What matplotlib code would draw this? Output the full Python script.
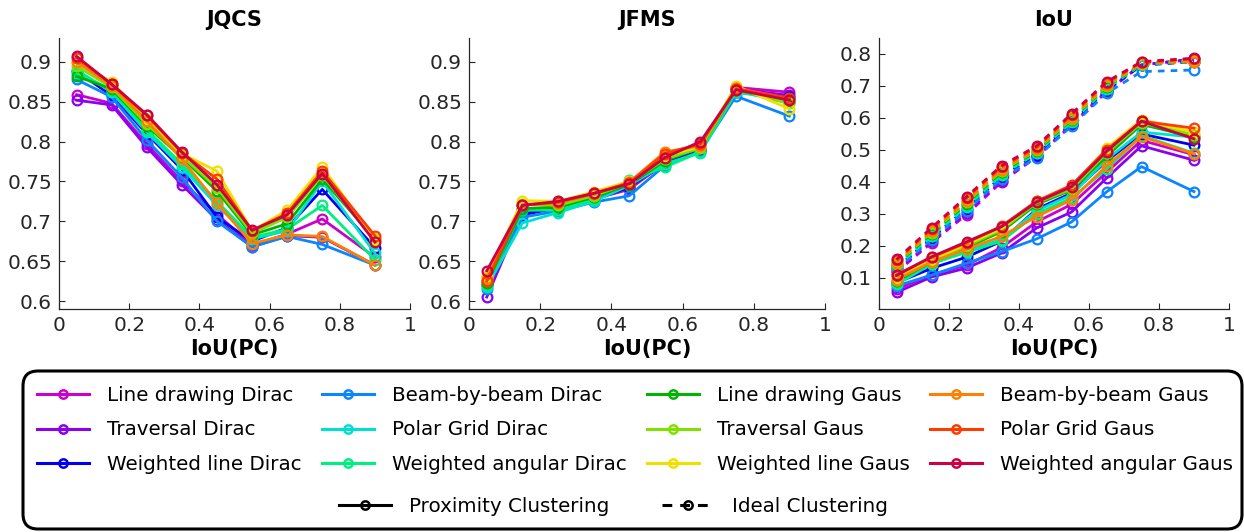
import numpy as np
import matplotlib
matplotlib.use('Agg')
import matplotlib.pyplot as plt
from matplotlib.lines import Line2D
from matplotlib.patches import FancyBboxPatch
from matplotlib.ticker import FormatStrFormatter

# x values (IoU of point clouds)
iou_pc = [0.05, 0.15, 0.25, 0.35, 0.45, 0.55, 0.65, 0.75, 0.9]

names = ['Line drawing Dirac', 'Traversal Dirac', 'Weighted line Dirac',
         'Beam-by-beam Dirac', 'Polar Grid Dirac', 'Weighted angular Dirac',
         'Line drawing Gaus', 'Traversal Gaus', 'Weighted line Gaus',
         'Beam-by-beam Gaus', 'Polar Grid Gaus', 'Weighted angular Gaus']

colors = ['#cc00cc', '#8c00f0', '#0000f0', '#0a84ff', '#00e0d0', '#00f080',
          '#00b400', '#80e000', '#f0e000', '#ff8000', '#ff3c00', '#cc0044']

jqcs = [
    [0.859, 0.848, 0.797, 0.750, 0.709, 0.670, 0.684, 0.703, 0.655],
    [0.852, 0.846, 0.793, 0.746, 0.702, 0.668, 0.682, 0.680, 0.645],
    [0.888, 0.858, 0.810, 0.765, 0.705, 0.675, 0.692, 0.740, 0.667],
    [0.878, 0.856, 0.802, 0.755, 0.700, 0.668, 0.681, 0.671, 0.645],
    [0.890, 0.862, 0.812, 0.768, 0.720, 0.678, 0.688, 0.750, 0.660],
    [0.886, 0.865, 0.815, 0.772, 0.725, 0.680, 0.690, 0.720, 0.652],
    [0.882, 0.866, 0.820, 0.780, 0.738, 0.683, 0.697, 0.753, 0.678],
    [0.895, 0.868, 0.822, 0.782, 0.742, 0.685, 0.705, 0.758, 0.676],
    [0.900, 0.875, 0.828, 0.785, 0.763, 0.688, 0.714, 0.768, 0.678],
    [0.900, 0.870, 0.826, 0.778, 0.723, 0.672, 0.683, 0.681, 0.645],
    [0.905, 0.872, 0.833, 0.786, 0.753, 0.688, 0.710, 0.763, 0.682],
    [0.907, 0.872, 0.834, 0.787, 0.746, 0.689, 0.708, 0.760, 0.674],
]

jfms = [
    [0.625, 0.712, 0.715, 0.728, 0.740, 0.774, 0.790, 0.868, 0.862],
    [0.605, 0.710, 0.716, 0.727, 0.742, 0.772, 0.788, 0.866, 0.858],
    [0.620, 0.708, 0.717, 0.727, 0.743, 0.775, 0.790, 0.862, 0.856],
    [0.615, 0.705, 0.713, 0.724, 0.732, 0.770, 0.788, 0.857, 0.832],
    [0.618, 0.698, 0.711, 0.725, 0.745, 0.772, 0.786, 0.862, 0.852],
    [0.620, 0.714, 0.714, 0.728, 0.752, 0.768, 0.787, 0.864, 0.848],
    [0.622, 0.716, 0.718, 0.730, 0.746, 0.776, 0.792, 0.865, 0.850],
    [0.630, 0.722, 0.720, 0.732, 0.748, 0.778, 0.792, 0.866, 0.848],
    [0.632, 0.726, 0.725, 0.737, 0.750, 0.782, 0.794, 0.870, 0.841],
    [0.628, 0.721, 0.723, 0.734, 0.749, 0.787, 0.795, 0.867, 0.854],
    [0.625, 0.720, 0.724, 0.735, 0.748, 0.785, 0.797, 0.866, 0.855],
    [0.638, 0.720, 0.725, 0.735, 0.747, 0.780, 0.800, 0.865, 0.852],
]

# IoU with proximity clustering (solid)
iou_prox = [
    [0.065, 0.110, 0.140, 0.195, 0.275, 0.330, 0.430, 0.530, 0.485],
    [0.055, 0.103, 0.131, 0.178, 0.256, 0.306, 0.412, 0.513, 0.468],
    [0.085, 0.130, 0.165, 0.215, 0.315, 0.365, 0.465, 0.550, 0.515],
    [0.075, 0.109, 0.146, 0.182, 0.222, 0.275, 0.369, 0.448, 0.370],
    [0.080, 0.143, 0.185, 0.220, 0.310, 0.360, 0.470, 0.556, 0.540],
    [0.085, 0.145, 0.180, 0.215, 0.300, 0.350, 0.440, 0.545, 0.490],
    [0.090, 0.150, 0.195, 0.245, 0.330, 0.375, 0.480, 0.580, 0.540],
    [0.095, 0.155, 0.200, 0.250, 0.335, 0.378, 0.490, 0.585, 0.548],
    [0.100, 0.158, 0.205, 0.255, 0.340, 0.385, 0.505, 0.595, 0.555],
    [0.095, 0.150, 0.190, 0.230, 0.292, 0.344, 0.450, 0.542, 0.488],
    [0.110, 0.165, 0.210, 0.262, 0.340, 0.390, 0.500, 0.590, 0.568],
    [0.108, 0.166, 0.213, 0.260, 0.337, 0.385, 0.495, 0.590, 0.535],
]

# IoU with ideal clustering (dashed)
iou_ideal = [
    [0.118, 0.210, 0.298, 0.400, 0.478, 0.577, 0.682, 0.766, 0.783],
    [0.122, 0.214, 0.303, 0.404, 0.480, 0.579, 0.684, 0.766, 0.785],
    [0.131, 0.225, 0.317, 0.417, 0.485, 0.584, 0.688, 0.765, 0.776],
    [0.127, 0.220, 0.310, 0.410, 0.476, 0.575, 0.677, 0.745, 0.750],
    [0.136, 0.230, 0.322, 0.422, 0.490, 0.588, 0.692, 0.767, 0.778],
    [0.139, 0.234, 0.327, 0.426, 0.493, 0.592, 0.695, 0.768, 0.777],
    [0.142, 0.238, 0.332, 0.431, 0.496, 0.595, 0.698, 0.769, 0.779],
    [0.145, 0.242, 0.336, 0.435, 0.499, 0.598, 0.700, 0.770, 0.781],
    [0.151, 0.249, 0.345, 0.443, 0.505, 0.605, 0.706, 0.772, 0.780],
    [0.148, 0.246, 0.340, 0.439, 0.502, 0.601, 0.703, 0.771, 0.776],
    [0.155, 0.253, 0.350, 0.447, 0.508, 0.609, 0.710, 0.774, 0.784],
    [0.158, 0.257, 0.354, 0.451, 0.512, 0.613, 0.713, 0.776, 0.787],
]

W, H = 1244, 532
fig = plt.figure(figsize=(W / 100, H / 100), dpi=100)


def add_ax(x0, x1, y0=38, y1=309):
    return fig.add_axes([x0 / W, 1 - y1 / H, (x1 - x0) / W, (y1 - y0) / H])


ax1 = add_ax(59, 410)
ax2 = add_ax(469, 825)
ax3 = add_ax(879, 1229)

line_kw = dict(lw=2, marker='o', ms=7, mew=1.6, mfc='none')
dash_kw = dict(lw=2, marker='o', ms=7, mew=1.6, mfc='none', ls=(0, (2.4, 2.2)))

for i in range(12):
    ax1.plot(iou_pc, jqcs[i], color=colors[i], **line_kw)
    ax2.plot(iou_pc, jfms[i], color=colors[i], **line_kw)
for i in range(12):
    ax3.plot(iou_pc, iou_ideal[i], color=colors[i], **dash_kw)
for i in range(12):
    ax3.plot(iou_pc, iou_prox[i], color=colors[i], **line_kw)

for ax, title in zip([ax1, ax2, ax3], ['JQCS', 'JFMS', 'IoU']):
    ax.set_title(title, fontsize=15, fontweight='bold', pad=9)
    ax.set_xlabel('IoU(PC)', fontsize=15, fontweight='bold', labelpad=3)
    ax.spines[['top', 'right']].set_visible(False)
    for s in ['left', 'bottom']:
        ax.spines[s].set_linewidth(0.9)
        ax.spines[s].set_color('#262626')
    ax.tick_params(direction='in', length=4, width=0.8, labelsize=14.5,
                   colors='#262626', pad=5)
    ax.set_xlim(0, 1)
    ax.set_xticks(np.arange(0, 1.01, 0.2))
    ax.xaxis.set_major_formatter(FormatStrFormatter('%g'))
    ax.yaxis.set_major_formatter(FormatStrFormatter('%g'))

for ax in [ax1, ax2]:
    ax.set_ylim(0.59, 0.93)
    ax.set_yticks(np.arange(0.6, 0.901, 0.05))
ax3.set_ylim(0.003, 0.85)
ax3.set_yticks(np.arange(0.1, 0.801, 0.1))

# legend
handles = [Line2D([], [], color=c, lw=2.2, marker='o', ms=6, mew=1.8, mfc='none')
           for c in colors]
fig.legend(handles, names, loc='upper left', bbox_to_anchor=(37 / W, 1 - 386 / H),
           ncol=4, frameon=False, fontsize=14.3, handlelength=2.6,
           handletextpad=0.9, columnspacing=1.05, labelspacing=0.78,
           borderpad=0, borderaxespad=0)

clus = [Line2D([], [], color='k', lw=2.2, marker='o', ms=6, mew=1.8, mfc='none'),
        Line2D([], [], color='k', lw=2.2, ls=(0, (3.2, 2.6)), marker='o', ms=6,
               mew=1.8, mfc='none')]
fig.legend(clus, ['Proximity Clustering', 'Ideal Clustering'], loc='upper left',
           bbox_to_anchor=(339 / W, 1 - 497 / H), ncol=2, frameon=False,
           fontsize=14.3, handlelength=2.6, handletextpad=0.9, columnspacing=2.7,
           borderpad=0, borderaxespad=0)

box = FancyBboxPatch((0.23, 0.03), 12.19, 1.58,
                     boxstyle='round,pad=0,rounding_size=0.15',
                     transform=fig.dpi_scale_trans, fc='none', ec='k', lw=2.2)
fig.add_artist(box)

fig.savefig('out.png', dpi=100)
